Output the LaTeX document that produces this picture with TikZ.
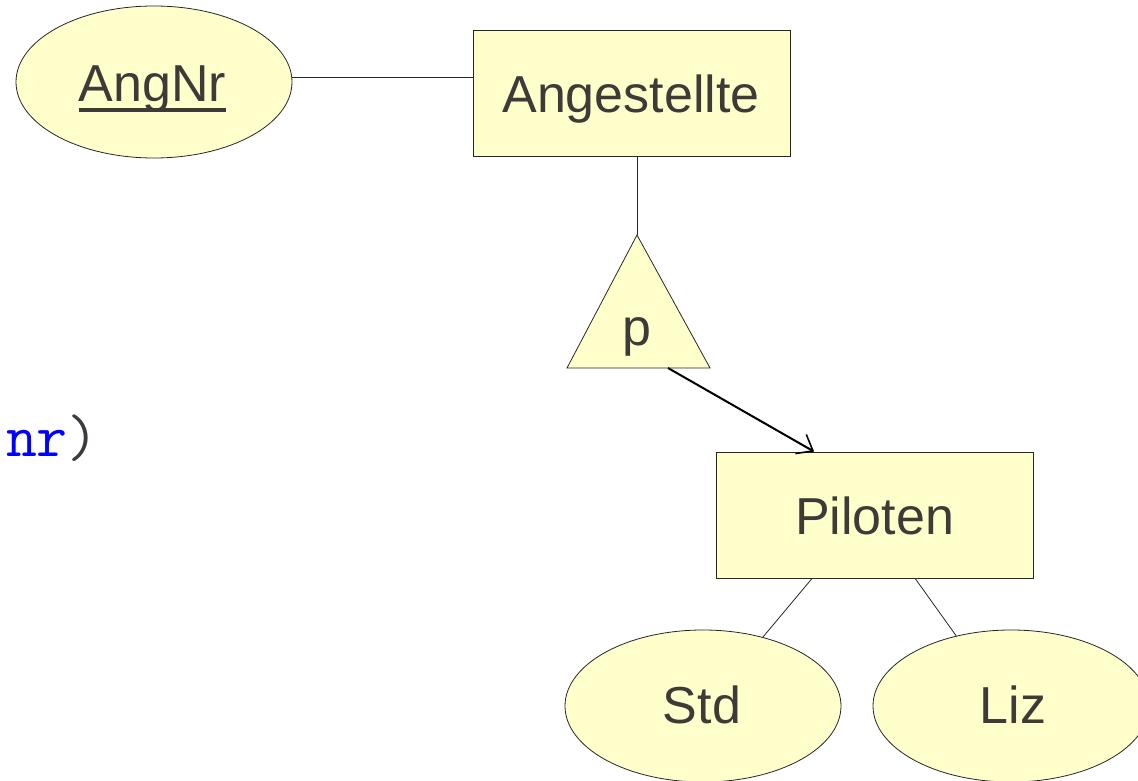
\documentclass[tikz,border=0pt]{standalone}
\usepackage{fontspec}
\setmainfont{Liberation Sans}
\usetikzlibrary{shapes.geometric,arrows.meta,calc}
\definecolor{fillc}{HTML}{FFFFCC}
\definecolor{txt}{HTML}{3F3A37}
\definecolor{codeblue}{HTML}{0000FF}
\newcommand\myul[1]{\setbox0\hbox{#1}\rlap{\rule[-10pt]{\wd0}{4pt}}\box0}
\begin{document}
\begin{tikzpicture}[x=1pt,y=-1pt,
  erbox/.style={draw=black!85,line width=0.8pt,fill=fillc,minimum width=317pt,minimum height=126pt,inner sep=0pt},
  erattr/.style={ellipse,draw=black!85,line width=0.8pt,fill=fillc,minimum width=276pt,minimum height=152pt,inner sep=0pt},
  lbl/.style={anchor=base,inner sep=0pt,text=txt,font=\fontsize{52}{60}\selectfont},
  conn/.style={draw=black!85,line width=0.8pt},
  isa/.style={draw=black,line width=2pt,-{Straight Barb[length=14pt,width=22pt,line width=1.6pt]}}]
\useasboundingbox (0,0) rectangle (1138,781);
\node[erattr] (angnr) at (154,82) {};
\node[erbox] (ang) at (631.5,93) {};
\node[erbox] (pil) at (875,515) {};
\node[erattr] (std) at (703,706) {};
\node[erattr] (liz) at (1011,706) {};
\node[lbl] (angnrt) at (152.5,102) {\myul{AngNr}};
\node[lbl] (angt) at (631,113) {Angestellte};
\node[lbl] (pilt) at (874.5,534) {Piloten};
\node[lbl] (stdt) at (702,723) {Std};
\node[lbl] (lizt) at (1013,723) {Liz};
\coordinate (tapex) at (637,235);
\coordinate (tbl) at (567,368);
\coordinate (tbr) at (710,368);
\draw[draw=black!85,line width=0.8pt,fill=fillc] (tapex) -- (tbr) -- (tbl) -- cycle;
\node[lbl] (p) at (637,345) {p};
\coordinate (tout) at (668,368);
\node[anchor=base east,inner sep=0pt,font=\ttfamily\fontsize{60}{66}\selectfont] (code) at (99,456) {\textcolor{codeblue}{nr}\textcolor{txt}{)}};
\draw[conn] ([yshift=5pt]angnr.east) -- ([yshift=5pt]angnr.east -| ang.west);
\draw[conn] (ang.south -| tapex) -- (tapex);
\draw[isa] (tout) -- ($(pil.north west)+(98,0)$);
\draw[conn] ($(pil.south west)+(96,0)$) -- (std.49);
\draw[conn] ($(pil.south west)+(199,0)$) -- (liz.128);
\end{tikzpicture}
\end{document}
